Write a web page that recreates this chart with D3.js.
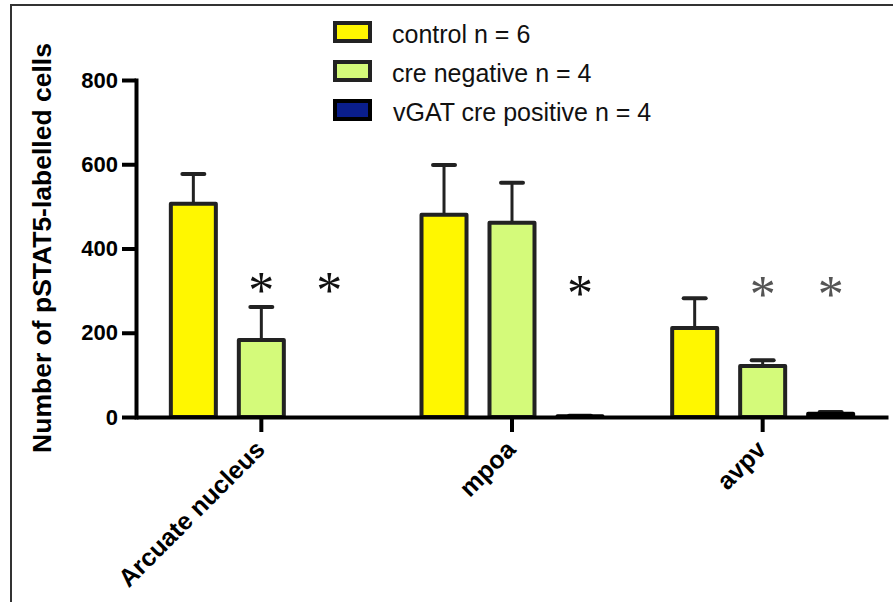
<!DOCTYPE html>
<html>
<head>
<meta charset="utf-8">
<script src="https://cdn.jsdelivr.net/npm/d3@7"></script>
<style>
  html, body { margin: 0; padding: 0; background: #fff; }
  svg { display: block; font-family: "Liberation Sans", Arial, sans-serif; }
</style>
</head>
<body>
<svg id="chart" width="893" height="602"></svg>
<script>
// ---- data ----
const categories = ["Arcuate nucleus", "mpoa", "avpv"];
const seriesNames = ["control n = 6", "cre negative n = 4", "vGAT cre positive n = 4"];
const controlMean = [506, 480, 211];
const controlErr  = [71, 118, 71];
const creNegMean  = [183, 461, 121];
const creNegErr   = [78, 95, 14];
const vgatMean    = [0, 2, 8];
const vgatErr     = [0, 1, 4];
const yTicks = [0, 200, 400, 600, 800];
const seriesColors = ["#fff700", "#d4fa7a", "#0a1e8c"];
const seriesStrokes = ["#222222", "#222222", "#000000"];
// significance asterisks: category index, series index, level, colour
const starCategory = [0, 0, 1, 2, 2];
const starSeries   = [1, 2, 2, 1, 2];
const starLevel    = [326, 326, 320, 318, 318];
const starColor    = ["#111", "#111", "#111", "#555", "#555"];

const means = [controlMean, creNegMean, vgatMean];
const errs = [controlErr, creNegErr, vgatErr];

const svg = d3.select("#chart");

// frame
svg.append("path").attr("d", "M11,602 V5 H893")
  .attr("fill", "none").attr("stroke", "#333").attr("stroke-width", 2);

const x0 = d3.scaleBand().domain(categories).range([136, 888]).padding(0);
const x1 = d3.scaleBand().domain(d3.range(3)).range([0, x0.bandwidth()])
  .paddingInner(0.338).paddingOuter(0.5125);
const y = d3.scaleLinear().domain([0, 800]).range([417, 80]);

// bars
const barG = svg.append("g");
categories.forEach((c, ci) => {
  seriesNames.forEach((s, si) => {
    const v = means[si][ci];
    const bx = x0(c) + x1(si);
    const bw = x1.bandwidth();
    const cx = bx + bw / 2;
    if (errs[si][ci] > 0) {
      const top = y(v + errs[si][ci]);
      barG.append("line").attr("x1", cx).attr("x2", cx)
        .attr("y1", y(v)).attr("y2", top)
        .attr("stroke", "#222").attr("stroke-width", 3);
      barG.append("line").attr("x1", cx - 11).attr("x2", cx + 11)
        .attr("y1", top).attr("y2", top)
        .attr("stroke", "#222").attr("stroke-width", 4).attr("stroke-linecap", "round");
    }
    if (v > 0) {
      barG.append("rect")
        .attr("x", bx).attr("y", y(v))
        .attr("width", bw).attr("height", y(0) - y(v))
        .attr("fill", seriesColors[si])
        .attr("stroke", seriesStrokes[si]).attr("stroke-width", 4)
        .attr("stroke-linejoin", "round");
    }
  });
});

// asterisks
starCategory.forEach((ci, i) => {
  const si = starSeries[i];
  const cx = x0(categories[ci]) + x1(si) + x1.bandwidth() / 2;
  svg.append("text")
    .attr("x", cx).attr("y", y(starLevel[i]))
    .attr("text-anchor", "middle")
    .attr("dy", "0.55em")
    .attr("font-family", "Liberation Serif, Times New Roman, serif")
    .attr("font-size", 52)
    .attr("fill", starColor[i])
    .text("*");
});

// y axis
const yAxis = svg.append("g").attr("transform", "translate(136,0)")
  .call(d3.axisLeft(y).tickValues(yTicks).tickSize(14).tickSizeOuter(0).tickPadding(4));
yAxis.select(".domain").attr("stroke", "#000").attr("stroke-width", 4).attr("stroke-linecap", "square");
yAxis.selectAll(".tick line").attr("stroke", "#000").attr("stroke-width", 4);
yAxis.selectAll(".tick text").attr("font-size", 22).attr("font-weight", "bold")
  .attr("fill", "#000").attr("font-family", "Liberation Sans, Arial, sans-serif");

// x axis
const xAxis = svg.append("g").attr("transform", "translate(0,417)")
  .call(d3.axisBottom(x0).tickSize(15).tickSizeOuter(0));
xAxis.select(".domain").attr("stroke", "#000").attr("stroke-width", 4);
xAxis.selectAll(".tick line").attr("stroke", "#000").attr("stroke-width", 4);
xAxis.selectAll(".tick text")
  .attr("x", 0).attr("y", 0).attr("dy", null)
  .attr("transform", "translate(5,34) rotate(-45)")
  .style("text-anchor", "end")
  .attr("font-size", 25).attr("font-weight", "bold").attr("fill", "#000")
  .attr("font-family", "Liberation Sans, Arial, sans-serif");

// y title
svg.append("text")
  .attr("transform", "translate(51,248) rotate(-90)")
  .attr("text-anchor", "middle")
  .attr("font-size", 26.5).attr("font-weight", "bold").attr("fill", "#000")
  .text("Number of pSTAT5-labelled cells");

// legend
const legend = svg.append("g");
seriesNames.forEach((s, i) => {
  const ly = 23 + i * 39;
  legend.append("rect").attr("x", 335).attr("y", ly).attr("width", 35).attr("height", 18)
    .attr("fill", seriesColors[i]).attr("stroke", i === 2 ? "#000" : "#222").attr("stroke-width", 4);
  legend.append("text").attr("x", i === 2 ? 393 : 392).attr("y", ly + 20)
    .attr("font-size", 25).attr("fill", "#111").text(s);
});
</script>
</body>
</html>
